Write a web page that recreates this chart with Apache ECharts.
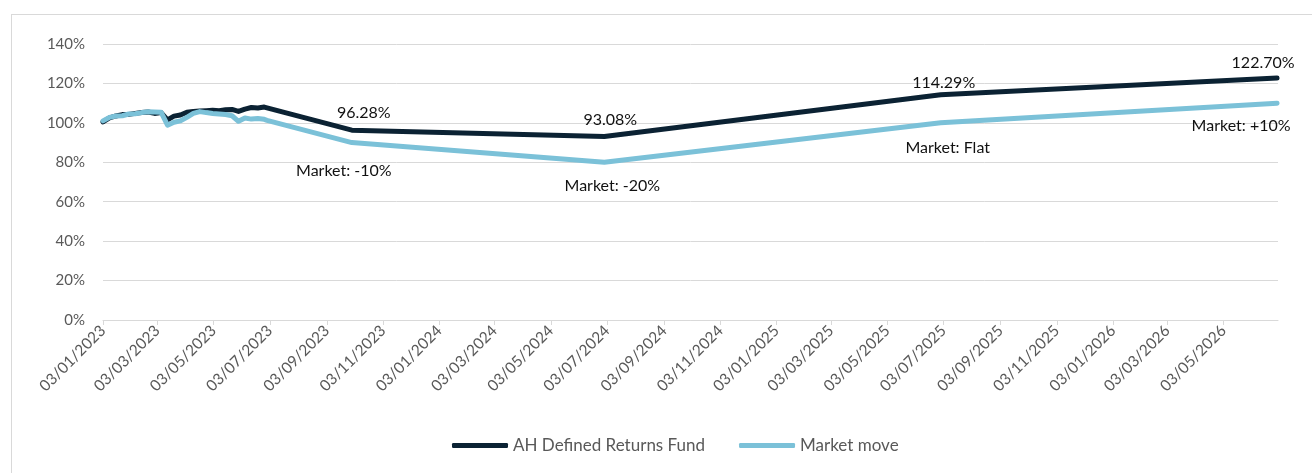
<!DOCTYPE html>
<html>
<head>
<meta charset="utf-8">
<script src="https://cdn.jsdelivr.net/npm/echarts@6/dist/echarts.min.js"></script>
<style>
  html, body { margin: 0; padding: 0; background: #fff; }
  .frame {
    position: absolute;
    left: 11px;
    top: 14px;
    width: 1320px;
    height: 480px;
    border-left: 1px solid #d9d9d9;
    border-top: 1px solid #d9d9d9;
  }
  #chart { position: absolute; left: 0; top: 0; width: 1312px; height: 473px; }
</style>
</head>
<body>
<div class="frame"></div>
<div id="chart"></div>
<script>
// dates are dd/mm/yyyy
const dates = [
  '03/01/2023', '10/01/2023', '17/01/2023', '24/01/2023', '31/01/2023',
  '07/02/2023', '14/02/2023', '21/02/2023', '28/02/2023', '07/03/2023',
  '14/03/2023', '21/03/2023', '28/03/2023', '04/04/2023', '11/04/2023',
  '18/04/2023', '25/04/2023', '02/05/2023', '09/05/2023', '16/05/2023',
  '23/05/2023', '30/05/2023', '06/06/2023', '13/06/2023', '20/06/2023',
  '27/06/2023', '30/06/2023',
  '30/09/2023', '30/06/2024', '30/06/2025', '30/06/2026'
]
const fundValues = [
  100.5, 102.5, 103.5, 104.2, 104.3,
  104.8, 105.3, 105.5, 104.8, 105.2,
  101.5, 103.4, 104.0, 105.4, 105.8,
  106.0, 106.2, 106.4, 106.2, 106.6,
  106.8, 105.8, 107.0, 107.8, 107.5,
  108.0, 107.6,
  96.28, 93.08, 114.29, 122.70
]
const marketValues = [
  101.0, 102.8, 103.5, 103.6, 104.5,
  104.6, 105.2, 105.6, 105.5, 105.4,
  98.8, 100.3, 101.0, 102.8, 104.8,
  105.7, 105.2, 104.8, 104.5, 104.2,
  103.6, 100.8, 102.5, 101.9, 102.2,
  101.8, 101.3,
  90, 80, 100, 110
]
// annotated points (indexes into the arrays above)
const labelIndexes = [27, 28, 29, 30]
const marketLabels = ['Market: -10%', 'Market: -20%', 'Market: Flat', 'Market: +10%']
// label centre relative to the point, px
const fundLabelShift = [[12, -17], [6, -17], [3, -12], [-14, -15]]
const marketLabelShift = [[-8, 28], [8, 24], [7, 25], [-36, 23]]

// x tick labels: every two months
const tickDates = [
  '03/01/2023', '03/03/2023', '03/05/2023', '03/07/2023', '03/09/2023', '03/11/2023',
  '03/01/2024', '03/03/2024', '03/05/2024', '03/07/2024', '03/09/2024', '03/11/2024',
  '03/01/2025', '03/03/2025', '03/05/2025', '03/07/2025', '03/09/2025', '03/11/2025',
  '03/01/2026', '03/03/2026', '03/05/2026'
]
const axisStart = '03/01/2023'
const axisEnd = '01/07/2026'

function toTime(s) {
  const [d, m, y] = s.split('/').map(Number)
  return Date.UTC(y, m - 1, d)
}
function fmtDate(t) {
  const d = new Date(t)
  const pad = n => String(n).padStart(2, '0')
  return pad(d.getUTCDate()) + '/' + pad(d.getUTCMonth() + 1) + '/' + d.getUTCFullYear()
}

const FONT = 'Lato'
const GREY = '#595959'
const FUND = '#0b2233'
const MARKET = '#7bc1d8'

function pointLabel(text, shift) {
  return {
    show: true,
    position: shift,
    align: 'center',
    verticalAlign: 'middle',
    formatter: text,
    color: '#111',
    fontSize: 16,
    fontFamily: FONT
  }
}

const fundData = dates.map((d, i) => {
  const item = { value: [toTime(d), fundValues[i]] }
  const k = labelIndexes.indexOf(i)
  if (k >= 0) item.label = pointLabel(fundValues[i].toFixed(2) + '%', fundLabelShift[k])
  return item
})

const marketData = dates.map((d, i) => {
  const item = { value: [toTime(d), marketValues[i]] }
  const k = labelIndexes.indexOf(i)
  if (k >= 0) item.label = pointLabel(marketLabels[k], marketLabelShift[k])
  return item
})

const tickValues = tickDates.map(toTime)

const chart = echarts.init(document.getElementById('chart'), null, { renderer: 'canvas' })
chart.setOption({
  animation: false,
  backgroundColor: 'transparent',
  grid: { left: 103, right: 34, top: 44, bottom: 153 },
  legend: {
    bottom: 14,
    left: 447,
    itemWidth: 56,
    itemHeight: 5,
    itemGap: 34,
    icon: 'roundRect',
    textStyle: { color: GREY, fontSize: 17, fontFamily: FONT },
    data: ['AH Defined Returns Fund', 'Market move']
  },
  xAxis: {
    type: 'value',
    min: toTime(axisStart),
    max: toTime(axisEnd),
    axisLine: { show: true, lineStyle: { color: '#d9d9d9', width: 1 } },
    axisTick: { show: true, customValues: tickValues, length: 5, lineStyle: { color: '#d9d9d9' } },
    axisLabel: {
      customValues: tickValues,
      rotate: 45,
      color: GREY,
      fontSize: 15.5,
      fontFamily: FONT,
      margin: 8,
      formatter: v => fmtDate(v)
    },
    splitLine: { show: false }
  },
  yAxis: {
    type: 'value',
    min: 0,
    max: 140,
    interval: 20,
    axisLine: { show: false },
    axisTick: { show: false },
    axisLabel: { color: GREY, fontSize: 15, fontFamily: FONT, margin: 18, formatter: '{value}%' },
    splitLine: { lineStyle: { color: '#d9d9d9', width: 1 } }
  },
  series: [
    {
      name: 'AH Defined Returns Fund',
      type: 'line',
      data: fundData,
      showSymbol: true,
      symbol: 'circle',
      symbolSize: 0,
      itemStyle: { color: FUND },
      lineStyle: { color: FUND, width: 5, cap: 'round', join: 'round' },
      labelLayout: { hideOverlap: false },
      z: 3
    },
    {
      name: 'Market move',
      type: 'line',
      data: marketData,
      showSymbol: true,
      symbol: 'circle',
      symbolSize: 0,
      itemStyle: { color: MARKET },
      lineStyle: { color: MARKET, width: 5, cap: 'round', join: 'round' },
      labelLayout: { hideOverlap: false },
      z: 4
    }
  ]
})
</script>
</body>
</html>
